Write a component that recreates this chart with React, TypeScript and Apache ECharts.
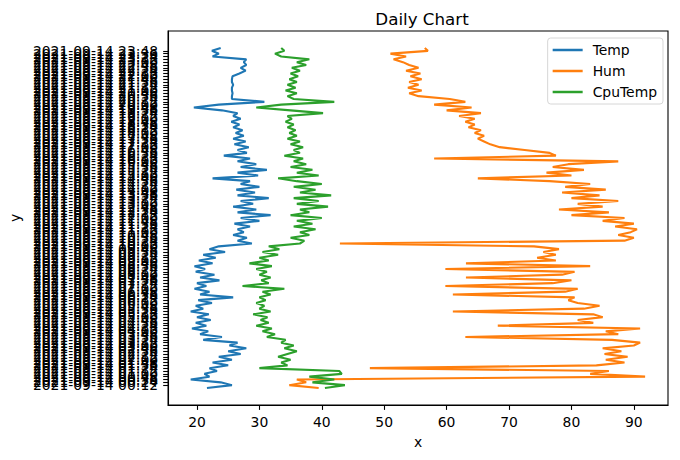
import React, { useEffect, useRef } from "react";
import * as echarts from "echarts";

// Series values, index 0 = first (bottom) category
const temp: number[] = [
  21.6, 25.6, 23.8, 19.0, 22.0, 21.2, 23.2, 22.0, 25.0, 22.5,
  25.6, 23.5, 27.0, 25.0, 27.9, 25.2, 26.5, 21.0, 24.0, 20.5,
  21.8, 19.2, 21.5, 19.8, 22.2, 20.0, 21.9, 19.0, 21.0, 19.8,
  22.4, 20.2, 25.8, 20.5, 22.0, 19.6, 21.5, 20.0, 23.6, 20.5,
  22.8, 19.8, 21.3, 19.6, 22.5, 20.3, 23.0, 21.0, 24.5, 22.0,
  23.5, 28.8, 26.5, 28.0, 25.8, 27.5, 26.5, 28.5, 26.0, 30.0,
  27.0, 31.8, 26.5, 29.5, 25.8, 29.0, 27.0, 31.5, 26.5, 29.3,
  26.3, 30.0, 27.0, 28.5, 22.5, 29.8, 26.5, 31.2, 27.0, 29.5,
  26.5, 28.5, 24.3, 28.0, 26.5, 28.3, 26.0, 27.8, 25.8, 27.5,
  26.2, 27.3, 25.8, 26.8, 25.5, 27.0, 25.8, 26.5, 24.0, 19.5,
  23.5, 30.8, 25.6, 25.6, 25.7, 25.6, 25.6, 25.8, 25.6, 25.6,
  25.7, 26.8, 27.8, 27.0, 27.9, 27.5, 27.9, 22.5, 23.5, 22.4,
  23.8,
];

const hum: number[] = [
  39.5, 34.8, 37.5, 36.0, 91.8, 83.0, 86.0, 47.7, 84.0, 88.5,
  85.5, 89.0, 85.3, 88.0, 85.0, 90.0, 91.0, 86.5, 63.0, 87.5,
  85.5, 91.0, 68.2, 83.5, 81.0, 85.0, 83.5, 61.0, 82.0, 84.5,
  81.0, 79.5, 80.5, 61.0, 79.0, 81.0, 59.8, 77.0, 80.0, 63.1,
  78.5, 80.5, 59.8, 83.0, 63.1, 77.5, 74.5, 77.5, 75.5, 78.0,
  74.0, 42.9, 88.5, 90.0, 87.5, 89.5, 90.5, 87.0, 90.0, 85.0,
  88.5, 80.0, 86.0, 78.0, 85.0, 81.0, 87.5, 80.0, 84.5, 78.5,
  85.5, 79.0, 83.0, 76.5, 65.0, 80.0, 76.0, 82.0, 77.0, 79.5,
  87.5, 58.0, 77.5, 76.5, 72.5, 68.5, 67.0, 66.0, 65.0, 66.0,
  64.5, 65.5, 63.5, 64.5, 63.0, 64.5, 62.0, 65.5, 60.0, 64.0,
  58.0, 63.0, 60.5, 55.5, 54.0, 56.0, 53.8, 55.5, 54.0, 56.0,
  54.2, 55.8, 53.5, 55.5, 54.0, 53.0, 51.5, 53.5, 51.0, 57.0,
  56.5,
];

const cpuTemp: number[] = [
  40.5, 43.7, 38.5, 42.0, 38.0, 43.2, 42.8, 30.0, 34.5, 33.5,
  35.0, 33.0, 34.5, 36.0, 34.0, 35.5, 33.5, 34.2, 31.2, 32.5,
  30.5, 32.0, 29.5, 31.5, 30.2, 31.3, 29.0, 31.8, 30.0, 30.8,
  29.5, 31.0, 30.0, 31.8, 30.5, 34.0, 27.3, 31.5, 30.3, 31.8,
  30.0, 31.2, 29.5, 32.0, 28.4, 31.5, 30.0, 33.0, 30.5, 33.2,
  31.5, 36.5, 37.2, 35.0, 38.0, 36.5, 39.0, 35.5, 38.5, 36.0,
  40.0, 35.0, 38.0, 36.5, 41.0, 36.0, 39.5, 35.5, 41.5, 36.5,
  39.0, 35.5, 40.0, 36.0, 33.0, 39.5, 36.0, 38.5, 35.0, 37.5,
  35.5, 37.0, 34.0, 36.5, 35.5, 37.0, 35.0, 36.5, 34.5, 36.0,
  34.8, 35.8, 34.5, 35.5, 34.2, 35.2, 34.5, 40.2, 35.0, 29.5,
  33.5, 42.0, 35.5, 34.5, 36.0, 34.2, 35.8, 34.5, 36.0, 34.8,
  36.2, 35.0, 36.5, 35.2, 37.5, 36.0, 38.0, 33.5, 32.5, 34.0,
  33.5,
];

// Category (timestamp) labels: readings every 12 minutes over one day
const START_MS = Date.UTC(2021, 8, 14, 0, 0);
const STEP_MINUTES = 12;
const pad = (n: number) => String(n).padStart(2, "0");
const categories: string[] = temp.map((_, i) => {
  const d = new Date(START_MS + i * STEP_MINUTES * 60000);
  return `${d.getUTCFullYear()}-${pad(d.getUTCMonth() + 1)}-${pad(d.getUTCDate())} ${pad(d.getUTCHours())}:${pad(d.getUTCMinutes())}`;
});

const xTicks: number[] = [20, 30, 40, 50, 60, 70, 80, 90];
const yIdx: number[] = categories.map((_, i) => i);

const seriesNames = ["Temp", "Hum", "CpuTemp"];
const seriesColors = ["#1f77b4", "#ff7f0e", "#2ca02c"];
const seriesValues = [temp, hum, cpuTemp];

const FONT = "DejaVu Sans";

export default function App() {
  const ref = useRef<HTMLDivElement>(null);
  useEffect(() => {
    if (!ref.current) return;
    const chart = echarts.init(ref.current, undefined, { renderer: "svg" });
    const axisCommon = {
      axisLine: { show: true, onZero: false, lineStyle: { color: "#000", width: 1.1 } },
      splitLine: { show: false },
      nameTextStyle: { fontSize: 13.9, color: "#000", fontFamily: FONT },
    };
    chart.setOption({
      animation: false,
      textStyle: { fontFamily: FONT },
      title: {
        text: "Daily Chart",
        left: 417,
        top: 5,
        textAlign: "center",
        textStyle: { fontSize: 16.7, fontWeight: "normal", color: "#000", fontFamily: FONT },
      },
      legend: {
        orient: "vertical",
        right: 17,
        top: 38,
        data: seriesNames,
        icon: "rect",
        itemWidth: 30,
        itemHeight: 2.5,
        itemGap: 7,
        padding: [5, 6, 5, 5],
        backgroundColor: "#fff",
        borderColor: "#d6d6d6",
        borderWidth: 1,
        borderRadius: 3,
        textStyle: { fontSize: 13.9, color: "#000", fontFamily: FONT, padding: [0, 0, 0, 5] },
      },
      grid: {
        left: 166,
        right: 12,
        top: 31,
        bottom: 55,
        show: true,
        borderColor: "#000",
        borderWidth: 1.1,
        backgroundColor: "transparent",
      },
      xAxis: {
        type: "value",
        min: 15.37,
        max: 95.47,
        name: "x",
        nameLocation: "middle",
        nameGap: 30,
        ...axisCommon,
        axisTick: { show: true, length: 4.9, lineStyle: { color: "#000", width: 1.1 }, customValues: xTicks },
        axisLabel: { customValues: xTicks, fontSize: 13.9, color: "#000", fontFamily: FONT, margin: 10 },
      },
      yAxis: {
        type: "value",
        min: -6,
        max: 126,
        name: "y",
        nameLocation: "middle",
        nameRotate: 90,
        nameGap: 143,
        ...axisCommon,
        axisTick: { show: true, length: 4.9, lineStyle: { color: "#000", width: 1.1 }, customValues: yIdx },
        axisLabel: {
          customValues: yIdx,
          fontSize: 13.9,
          color: "#000",
          fontFamily: FONT,
          margin: 10,
          formatter: (v: number) => categories[Math.round(v)] ?? "",
        },
      },
      series: seriesNames.map((name, s) => ({
        name,
        type: "line",
        showSymbol: false,
        symbol: "none",
        color: seriesColors[s],
        lineStyle: { width: 2.1, color: seriesColors[s] },
        data: seriesValues[s].map((v, i) => [v, i]),
      })),
    });
    return () => chart.dispose();
  }, []);
  return (
    <div
      ref={ref}
      style={{ position: "fixed", left: 0, top: 0, width: 680, height: 460, background: "#fff" }}
    />
  );
}
